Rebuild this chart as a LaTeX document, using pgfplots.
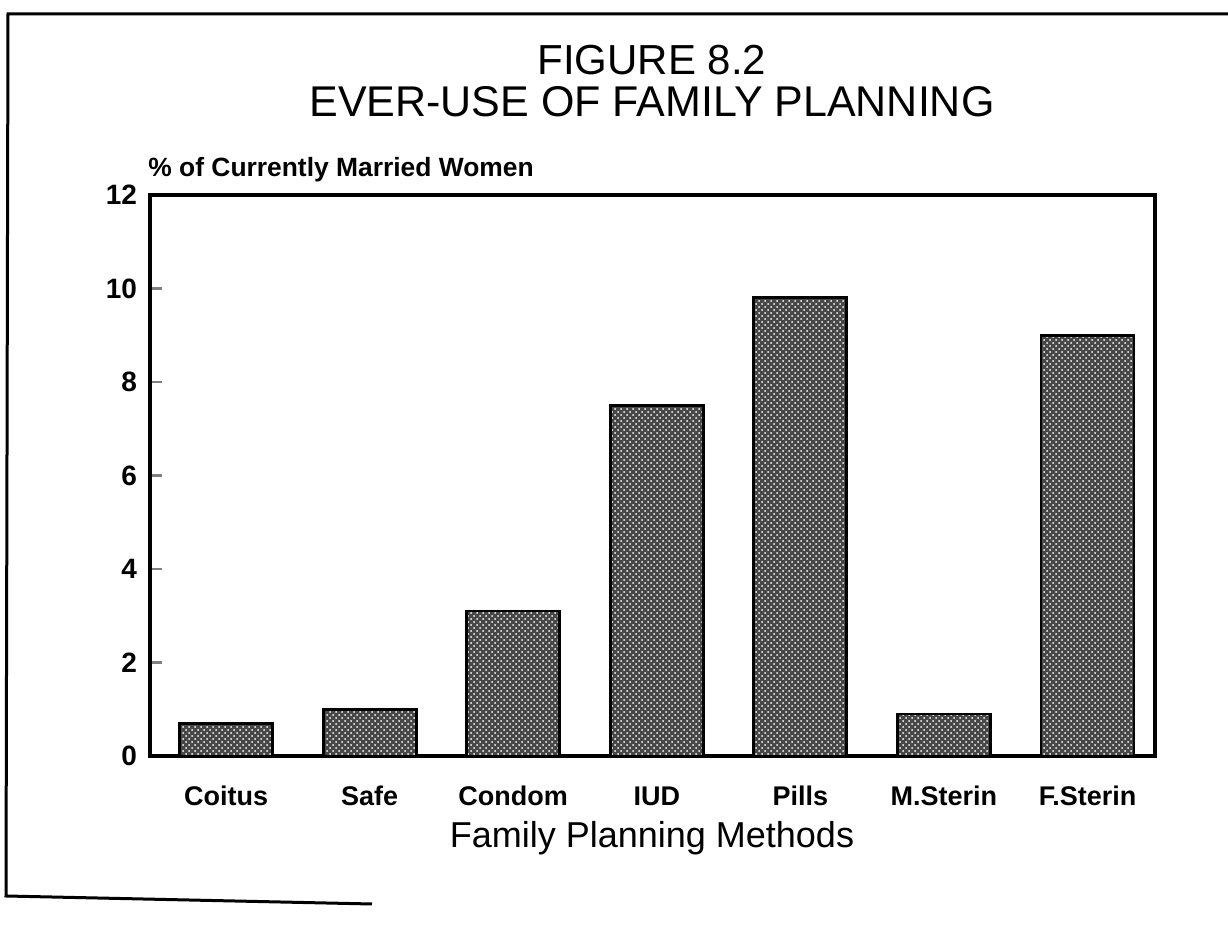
\documentclass[border=0pt]{standalone}
\usepackage{pgfplots}
\pgfplotsset{compat=1.18}
\usepackage{fontspec}
\setmainfont{Liberation Sans}
\usetikzlibrary{patterns}
\begin{document}
\begin{tikzpicture}
\path[use as bounding box] (0pt,0pt) rectangle (614pt,464pt);
% scanned page frame
\draw[line width=1.5pt] (614pt,457pt) -- (4pt,457pt) -- (3pt,16pt) -- (186pt,12pt);
% titles
\node[font=\fontsize{21}{24}\selectfont] at (326pt,434pt) {FIGURE 8.2};
\node[font=\fontsize{21.5}{24}\selectfont] at (326pt,413pt) {EVER-USE OF FAMILY PLANNING};
\node[font=\bfseries\fontsize{13.2}{15}\selectfont, anchor=west, inner sep=0pt] at (74pt,379pt) {\% of Currently Married Women};
\node[font=\fontsize{18}{22}\selectfont] at (326pt,45pt) {Family Planning Methods};
\begin{axis}[
  at={(75pt,86pt)}, anchor=south west,
  scale only axis, width=502.5pt, height=280.5pt,
  xmin=-0.53, xmax=6.47, ymin=0, ymax=12,
  ybar, bar width=46.5pt,
  axis line style={line width=1.8pt},
  xtick={0,...,6},
  xticklabels={Coitus,Safe,Condom,IUD,Pills,M.Sterin,F.Sterin},
  xtick style={draw=none},
  ytick={0,2,...,12},
  ytick pos=left, tick align=inside,
  major tick length=6pt,
  ytick style={line width=1.4pt},
  /pgf/number format/assume math mode=true,
  xticklabel style={font=\bfseries\fontsize{13.5}{15}\selectfont, yshift=-13pt, text height=1.6ex, text depth=0.3ex},
  yticklabel style={font=\bfseries\fontsize{14}{16}\selectfont, xshift=-3pt},
]
\addplot[fill=black!72, draw=black, line width=1.4pt,
  postaction={pattern=crosshatch dots, pattern color=white}]
  coordinates {(0,0.7) (1,1.0) (2,3.1) (3,7.5) (4,9.8) (5,0.9) (6,9.0)};
\end{axis}
\end{tikzpicture}
\end{document}
